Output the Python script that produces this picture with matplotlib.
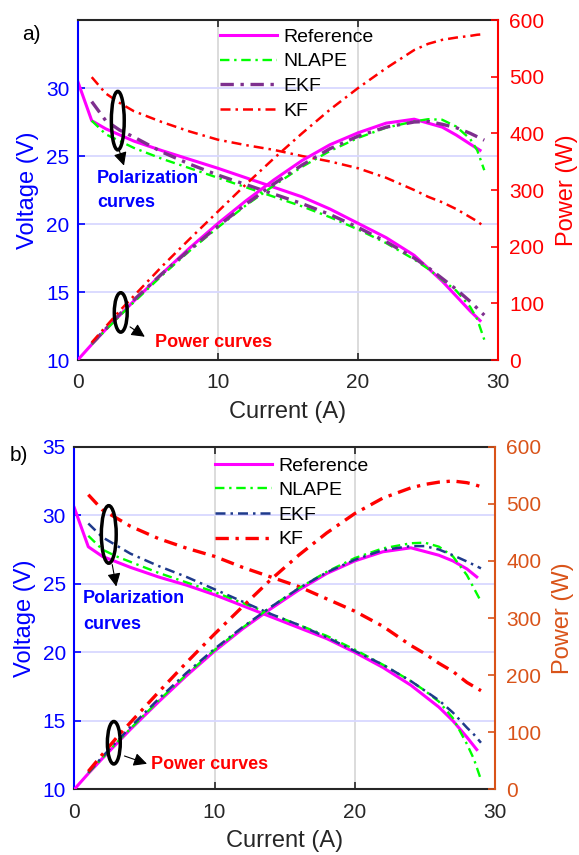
import matplotlib
matplotlib.use('Agg')
import matplotlib.pyplot as plt
from matplotlib.patches import Ellipse

plt.rcParams['font.family'] = ['Liberation Sans', 'DejaVu Sans']

# currents (A)
cur_ref = [0, 1, 2, 4, 6, 8, 10, 12, 14, 16, 18, 20, 22, 24, 26, 27, 28, 28.7]
cur_est = [1, 2, 3, 4, 6, 8, 10, 12, 14, 16, 18, 20, 22, 24, 25, 26, 27, 28, 28.5, 29]

# (a) voltage (V) and power (W)
ref_v_a = [30.5, 27.6, 27.0, 26.1, 25.4, 24.75, 24.1, 23.4, 22.7, 22.0, 21.1, 20.05, 19.0, 17.7, 15.8, 14.7, 13.6, 12.9]
ref_p_a = [0, 27.6, 54, 104, 152, 198, 241, 281, 318, 352, 380, 401, 418, 425, 411, 397, 381, 370]
nl_v_a = [27.6, 26.6, 26.1, 25.6, 24.8, 24.1, 23.4, 22.7, 22.0, 21.3, 20.5, 19.6, 18.6, 17.4, 16.7, 15.9, 15.1, 13.9, 13.0, 11.5]
nl_p_a = [27.6, 53, 78, 102, 149, 193, 234, 273, 308, 341, 369, 392, 410, 421, 425, 424, 412, 390, 370, 335]
ekf_v_a = [29.0, 27.6, 26.9, 26.4, 25.3, 24.4, 23.6, 22.9, 22.2, 21.5, 20.7, 19.75, 18.7, 17.5, 16.8, 16.0, 15.2, 14.3, 13.8, 13.3]
ekf_p_a = [29, 55, 81, 106, 152, 195, 236, 275, 311, 344, 373, 395, 411, 420, 421, 416, 410, 400, 394, 388]
kf_v_a = [30.8, 29.6, 28.9, 28.3, 27.5, 26.8, 26.2, 25.8, 25.45, 25.0, 24.6, 24.1, 23.4, 22.5, 22.0, 21.6, 21.1, 20.5, 20.2, 19.8]
kf_p_a = [31, 59, 87, 113, 165, 214, 262, 310, 356, 400, 442, 480, 515, 547, 558, 565, 569, 572, 574, 575]

# (b) voltage (V) and power (W)
ref_v_b = [30.55, 27.7, 27.0, 26.2, 25.5, 24.9, 24.2, 23.4, 22.6, 21.8, 21.0, 20.0, 18.9, 17.6, 16.0, 15.0, 13.8, 12.9]
ref_p_b = [0, 27.7, 54, 105, 153, 199, 242, 281, 316, 349, 378, 400, 416, 423, 410, 400, 386, 372]
nl_v_b = [28.5, 27.5, 27.0, 26.6, 25.8, 25.1, 24.4, 23.6, 22.8, 22.0, 21.2, 20.2, 19.1, 17.9, 17.2, 16.4, 15.2, 13.3, 12.2, 10.7]
nl_p_b = [28.5, 55, 81, 106, 155, 201, 244, 283, 319, 352, 381, 405, 422, 431, 432, 425, 408, 375, 352, 329]
ekf_v_b = [29.4, 28.4, 27.8, 27.2, 26.3, 25.5, 24.6, 23.7, 22.8, 22.0, 21.1, 20.1, 19.1, 17.9, 17.2, 16.5, 15.6, 14.5, 14.0, 13.4]
ekf_p_b = [29.4, 57, 83, 109, 158, 204, 246, 284, 319, 352, 380, 402, 419, 426, 426, 420, 410, 399, 393, 387]
kf_v_b = [31.5, 30.4, 29.8, 29.2, 28.3, 27.6, 27.0, 26.2, 25.5, 24.8, 23.9, 23.0, 21.9, 20.5, 19.9, 19.2, 18.6, 17.8, 17.5, 17.2]
kf_p_b = [31.5, 61, 90, 117, 170, 222, 272, 320, 367, 410, 449, 483, 510, 528, 534, 538, 540, 537, 534, 530]

labels = ['Reference', 'NLAPE', 'EKF', 'KF']
DD = (0, (4, 2, 1, 2))


def draw_panel(rect, currents, volt, power, styles, right_color, yticks_v, tag, tag_xy, notes):
    ax = fig.add_axes(rect)
    ax2 = ax.twinx()
    ax.set_xlim(0, 30)
    ax.set_ylim(10, 35)
    ax2.set_ylim(0, 600)
    ax.set_xticks([0, 10, 20, 30])
    ax.set_yticks(yticks_v)
    ax2.set_yticks(range(0, 601, 100))

    ax.xaxis.grid(True, color='#D9D9D9', lw=1.3)
    ax.yaxis.grid(True, color='#D8D8FF', lw=1.3)
    ax.set_axisbelow(True)

    handles = []
    for i in range(4):
        col, ls, lw = styles[i]
        h, = ax.plot(currents[i], volt[i], color=col, ls=ls, lw=lw)
        ax2.plot(currents[i], power[i], color=col, ls=ls, lw=lw)
        handles.append(h)

    # spines and ticks
    for s in ('left', 'right', 'top', 'bottom'):
        ax.spines[s].set_linewidth(1.5)
        ax2.spines[s].set_linewidth(1.5)
    ax.spines['left'].set_color('#0000FF')
    ax2.spines['left'].set_visible(False)
    ax.spines['right'].set_visible(False)
    ax2.spines['right'].set_color(right_color)
    ax.spines['top'].set_color('#262626')
    ax.spines['bottom'].set_color('#262626')
    ax2.spines['top'].set_visible(False)
    ax2.spines['bottom'].set_visible(False)

    ax.tick_params(axis='x', direction='in', top=True, length=5, width=1.2,
                   labelsize=15, colors='#262626', pad=9.5)
    ax.tick_params(axis='y', direction='in', length=5, width=1.2,
                   labelsize=15, colors='#0000FF', pad=6)
    ax2.tick_params(axis='y', direction='in', length=5, width=1.2,
                    labelsize=15, colors=right_color, pad=8)

    ax.set_xlabel('Current (A)', fontsize=17, color='#262626', labelpad=6)
    ax.set_ylabel('Voltage (V)', fontsize=17, color='#0000FF', labelpad=5)
    ax2.set_ylabel('Power (W)', fontsize=17, color=right_color, labelpad=8)

    ax2.legend(handles, labels, loc='upper left', bbox_to_anchor=notes['leg'],
               frameon=False, fontsize=14, handlelength=2.95, handletextpad=0.3,
               labelspacing=0.36, borderpad=0, borderaxespad=0)

    # ellipses marking the two curve groups
    for (cx, cy, w, hgt) in notes['ellipses']:
        ax2.add_patch(Ellipse((cx, cy), w, hgt, transform=ax.transData,
                              fill=False, ec='black', lw=2.5, zorder=6))
    for (x0, y0, x1, y1) in notes['arrows']:
        ax2.annotate('', xy=(x1, y1), xytext=(x0, y0),
                     xycoords=ax.transData, textcoords=ax.transData,
                     arrowprops=dict(arrowstyle='-|>', color='black', lw=0.8,
                                     mutation_scale=20), zorder=6)
    for (x, y, s, col) in notes['texts']:
        ax2.text(x, y, s, transform=ax.transData, color=col, fontsize=13,
                 fontweight='bold', ha='left', va='center', zorder=6)

    fig.text(tag_xy[0], tag_xy[1], tag, fontsize=15, ha='left', va='center')
    return ax, ax2


fig = plt.figure(figsize=(5.79, 8.55), dpi=100)

draw_panel(
    [0.1342, 0.5789, 0.7264, 0.3977],
    [cur_ref, cur_est, cur_est, cur_est],
    [ref_v_a, nl_v_a, ekf_v_a, kf_v_a],
    [ref_p_a, nl_p_a, ekf_p_a, kf_p_a],
    [('#FF00FF', '-', 2.2), ('#00FF00', DD, 1.7), ('#7E2F8E', DD, 2.4), ('#FF0000', DD, 1.8)],
    '#FF0000', [10, 15, 20, 25, 30], 'a)', (22 / 579, 1 - 35 / 855),
    {'leg': (0.338, 0.976),
     'ellipses': [(2.86, 27.6, 0.92, 4.3), (3.07, 13.5, 0.92, 2.9)],
     'arrows': [(2.91, 25.6, 3.36, 24.1), (3.57, 12.55, 4.95, 11.6)],
     'texts': [(1.37, 23.36, 'Polarization', '#0000FF'), (1.37, 21.6, 'curves', '#0000FF'),
               (5.5, 11.3, 'Power curves', '#FF0000')]})

draw_panel(
    [0.1283, 0.0768, 0.7266, 0.4007],
    [cur_ref, cur_est, cur_est, cur_est],
    [ref_v_b, nl_v_b, ekf_v_b, kf_v_b],
    [ref_p_b, nl_p_b, ekf_p_b, kf_p_b],
    [('#FF00FF', '-', 2.2), ('#00FF00', DD, 1.7), ('#1F3A8C', DD, 1.8), ('#FF0000', DD, 2.4)],
    '#D95319', [10, 15, 20, 25, 30, 35], 'b)', (10 / 579, 1 - 455 / 855),
    {'leg': (0.334, 0.970),
     'ellipses': [(2.46, 28.6, 1.06, 4.2), (2.82, 13.4, 0.92, 3.1)],
     'arrows': [(2.67, 26.6, 3.03, 24.6), (3.39, 12.5, 5.37, 11.8)],
     'texts': [(0.62, 23.9, 'Polarization', '#0000FF'), (0.62, 22.05, 'curves', '#0000FF'),
               (5.5, 11.8, 'Power curves', '#FF0000')]})

fig.savefig('out.png', dpi=100)
